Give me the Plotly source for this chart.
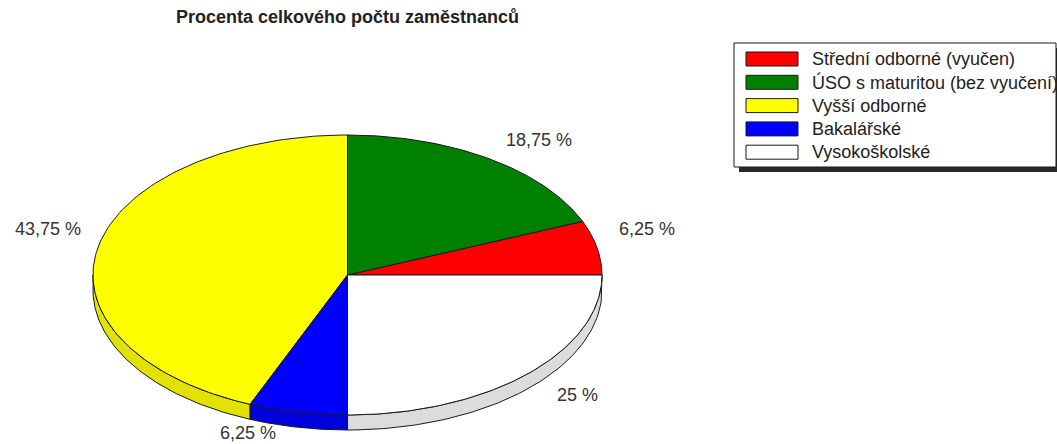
import numpy as np
import plotly.graph_objects as go

# ---- data ----
categories = ["Střední odborné (vyučen)", "ÚSO s maturitou (bez vyučení)",
              "Vyšší odborné", "Bakalářské", "Vysokoškolské"]
percent = [6.25, 18.75, 43.75, 6.25, 25]
title_text = "Procenta celkového počtu zaměstnanců"

# ---- styles ----
top_colors = ["#ff0000", "#008000", "#ffff00", "#0000ff", "#ffffff"]
side_colors = ["#d00000", "#006400", "#e2e200", "#0000dc", "#dcdcdc"]
FONT = "Liberation Sans"
W, H = 1057, 444
cx, cy, rx, ry, depth = 347.5, 275, 254.5, 140, 15

fig = go.Figure()

vals = np.array(percent, dtype=float)
edges = np.concatenate([[0], np.cumsum(vals) / vals.sum() * 360.0])

def pt(deg):
    r = np.radians(deg)
    return cx + rx * np.cos(r), cy - ry * np.sin(r)

# side walls (visible lower half)
for i in range(len(vals)):
    lo, hi = max(edges[i], 180), min(edges[i + 1], 360)
    if lo < hi:
        t = np.linspace(lo, hi, 80)
        x, yt = pt(t)
        yb = yt + depth
        fig.add_trace(go.Scatter(
            x=np.concatenate([x, x[::-1], x[:1]]),
            y=np.concatenate([yt, yb[::-1], yt[:1]]),
            mode="lines", fill="toself", fillcolor=side_colors[i],
            line=dict(color="#1a1a1a", width=1), hoverinfo="skip"))

# top faces
for i in range(len(vals)):
    t = np.linspace(edges[i], edges[i + 1], 120)
    x, y = pt(t)
    fig.add_trace(go.Scatter(
        x=np.concatenate([[cx], x, [cx]]),
        y=np.concatenate([[cy], y, [cy]]),
        mode="lines", fill="toself", fillcolor=top_colors[i],
        line=dict(color="#1a1a1a", width=1),
        name=categories[i], hoverinfo="name"))

annotations = []
# slice labels
for i in range(len(vals)):
    mid = (edges[i] + edges[i + 1]) / 2
    x, y = pt(mid)
    c, s = np.cos(np.radians(mid)), np.sin(np.radians(mid))
    x += 50 * np.sign(c)
    y += -19 if s > 0 else 21
    txt = f"{percent[i]:g}".replace(".", ",") + " %"
    annotations.append(dict(x=x, y=y, text=txt, showarrow=False,
                            xanchor="center", yanchor="middle",
                            font=dict(family=FONT, size=18, color="#333333")))

# title
annotations.append(dict(x=cx, y=17, text="<b>" + title_text + "</b>", showarrow=False,
                        xanchor="center", yanchor="middle",
                        font=dict(family=FONT, size=18, color="#222222")))

# legend (drawn manually)
shapes = []
lx0, ly0, lx1, ly1 = 734, 43, 1056, 167
shapes.append(dict(type="rect", x0=lx0 + 5, y0=ly0 + 5, x1=lx1 + 6, y1=ly1 + 5,
                   fillcolor="#2a2a2a", line=dict(width=0), layer="above"))
shapes.append(dict(type="rect", x0=lx0, y0=ly0, x1=lx1, y1=ly1,
                   fillcolor="#ffffff", line=dict(color="#1a1a1a", width=1), layer="above"))
row0, step = 59, 23.3
for i, name in enumerate(categories):
    yc = row0 + step * i
    shapes.append(dict(type="rect", x0=746, y0=yc - 7, x1=798, y1=yc + 7,
                       fillcolor=top_colors[i], line=dict(color="#1a1a1a", width=1),
                       layer="above"))
    annotations.append(dict(x=810, y=yc, text=name, showarrow=False,
                            xanchor="left", yanchor="middle",
                            font=dict(family=FONT, size=18, color="#222222")))

fig.update_layout(
    width=W, height=H, margin=dict(l=0, r=0, t=0, b=0),
    paper_bgcolor="white", plot_bgcolor="white", showlegend=False,
    xaxis=dict(range=[0, W], visible=False, fixedrange=True),
    yaxis=dict(range=[H, 0], visible=False, fixedrange=True),
    shapes=shapes, annotations=annotations,
)
fig.write_html("out.html", config={"displayModeBar": False},
               post_script="document.body.style.margin='0';document.body.style.overflow='hidden';")
